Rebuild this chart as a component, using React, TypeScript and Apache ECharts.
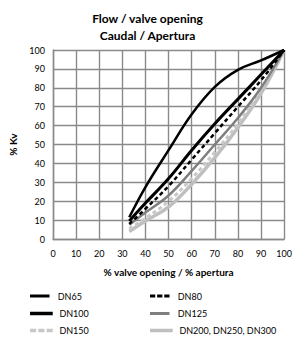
import React, { useEffect, useRef } from "react";
import * as echarts from "echarts";

const xOpen = [33, 40, 50, 60, 70, 80, 90, 100];
const dn65 = [11.5, 27.5, 47, 66, 80.5, 89.5, 94.5, 100];
const dn80 = [8, 16, 28, 42, 56, 70, 84, 100];
const dn100 = [9.5, 19, 32, 47, 61, 74, 87, 100];
const dn125 = [7.5, 14, 23, 36, 50, 64, 80, 100];
const dn150 = [5.5, 11, 20, 32, 46, 61, 79, 100];
const dn200 = [4, 9.5, 17, 29, 43, 59, 77, 100];
const xTicks = [0, 10, 20, 30, 40, 50, 60, 70, 80, 90, 100];

const FONT = "Lato, 'Open Sans', sans-serif";
const SOLID = "path://M0,0h26v4h-26z";
const DASHED = "path://M0,0h7v4h-7z M9.5,0h7v4h-7z M19,0h7v4h-7z";

function pts(ys: number[]) {
  return xOpen.map((x, i) => [x, ys[i]]);
}

export default function App() {
  const ref = useRef<HTMLDivElement>(null);
  useEffect(() => {
    if (!ref.current) return;
    const chart = echarts.init(ref.current, undefined, { renderer: "svg" });
    const mk = (name: string, data: number[], color: string, width: number, type: any) => ({
      name,
      type: "line",
      data: pts(data),
      smooth: 0.4,
      symbol: "none",
      showSymbol: false,
      lineStyle: { color, width, type },
      itemStyle: { color },
    });
    const leg = (name: string, icon: string, left: number, top: number, h: number) => ({
      left,
      top,
      padding: 0,
      itemWidth: 26,
      itemHeight: h,
      data: [{ name, icon }],
      textStyle: { fontSize: 9, color: "#000", lineHeight: 11, fontFamily: FONT },
    });
    chart.setOption({
      animation: false,
      textStyle: { fontFamily: FONT },
      title: {
        text: "Flow / valve opening\nCaudal / Apertura",
        left: "center",
        top: 5,
        textStyle: { fontSize: 12, fontWeight: "bold", lineHeight: 17, color: "#000", fontFamily: FONT },
      },
      grid: { left: 48, right: 10, top: 50, bottom: 98 },
      xAxis: {
        type: "value",
        min: 0,
        max: 100,
        interval: 10,
        name: "% valve opening / % apertura",
        nameLocation: "middle",
        nameGap: 28,
        nameTextStyle: { fontSize: 10, fontWeight: "bold", color: "#000", fontFamily: FONT },
        axisLine: { show: true, lineStyle: { color: "#8a8a8a", width: 1.4 } },
        axisTick: { show: false },
        axisLabel: { fontSize: 9, color: "#000", margin: 10, fontFamily: FONT,
          formatter: (v: number) => (xTicks.includes(v) ? String(v) : "") },
        splitLine: { show: true, lineStyle: { color: "#8a8a8a", width: 1.4 } },
      },
      yAxis: {
        type: "value",
        min: 0,
        max: 100,
        interval: 10,
        name: "% Kv",
        nameLocation: "middle",
        nameGap: 35,
        nameTextStyle: { fontSize: 10, fontWeight: "bold", color: "#000", fontFamily: FONT },
        axisLine: { show: true, lineStyle: { color: "#8a8a8a", width: 1.4 } },
        axisTick: { show: false },
        axisLabel: { fontSize: 9, color: "#000", margin: 8, fontFamily: FONT },
        splitLine: { show: true, lineStyle: { color: "#8a8a8a", width: 1.4 } },
      },
      legend: [
        leg("DN65", SOLID, 30, 290.5, 3),
        leg("DN100", SOLID, 30, 308, 3.5),
        leg("DN150", DASHED, 30, 325, 3.5),
        leg("DN80", DASHED, 150, 290.5, 3),
        leg("DN125", SOLID, 150, 308, 3),
        leg("DN200, DN250, DN300", SOLID, 150, 325, 3.5),
      ],
      series: [
        mk("DN200, DN250, DN300", dn200, "#bfbfbf", 3.5, "solid"),
        mk("DN150", dn150, "#c8c8c8", 3, [4, 3]),
        mk("DN125", dn125, "#7f7f7f", 2.5, "solid"),
        mk("DN80", dn80, "#000000", 2.5, [4, 3]),
        mk("DN100", dn100, "#000000", 3, "solid"),
        mk("DN65", dn65, "#000000", 2.5, "solid"),
      ],
    });
    return () => chart.dispose();
  }, []);
  return <div ref={ref} style={{ width: 295, height: 337, position: "absolute", left: 0, top: 0 }} />;
}
